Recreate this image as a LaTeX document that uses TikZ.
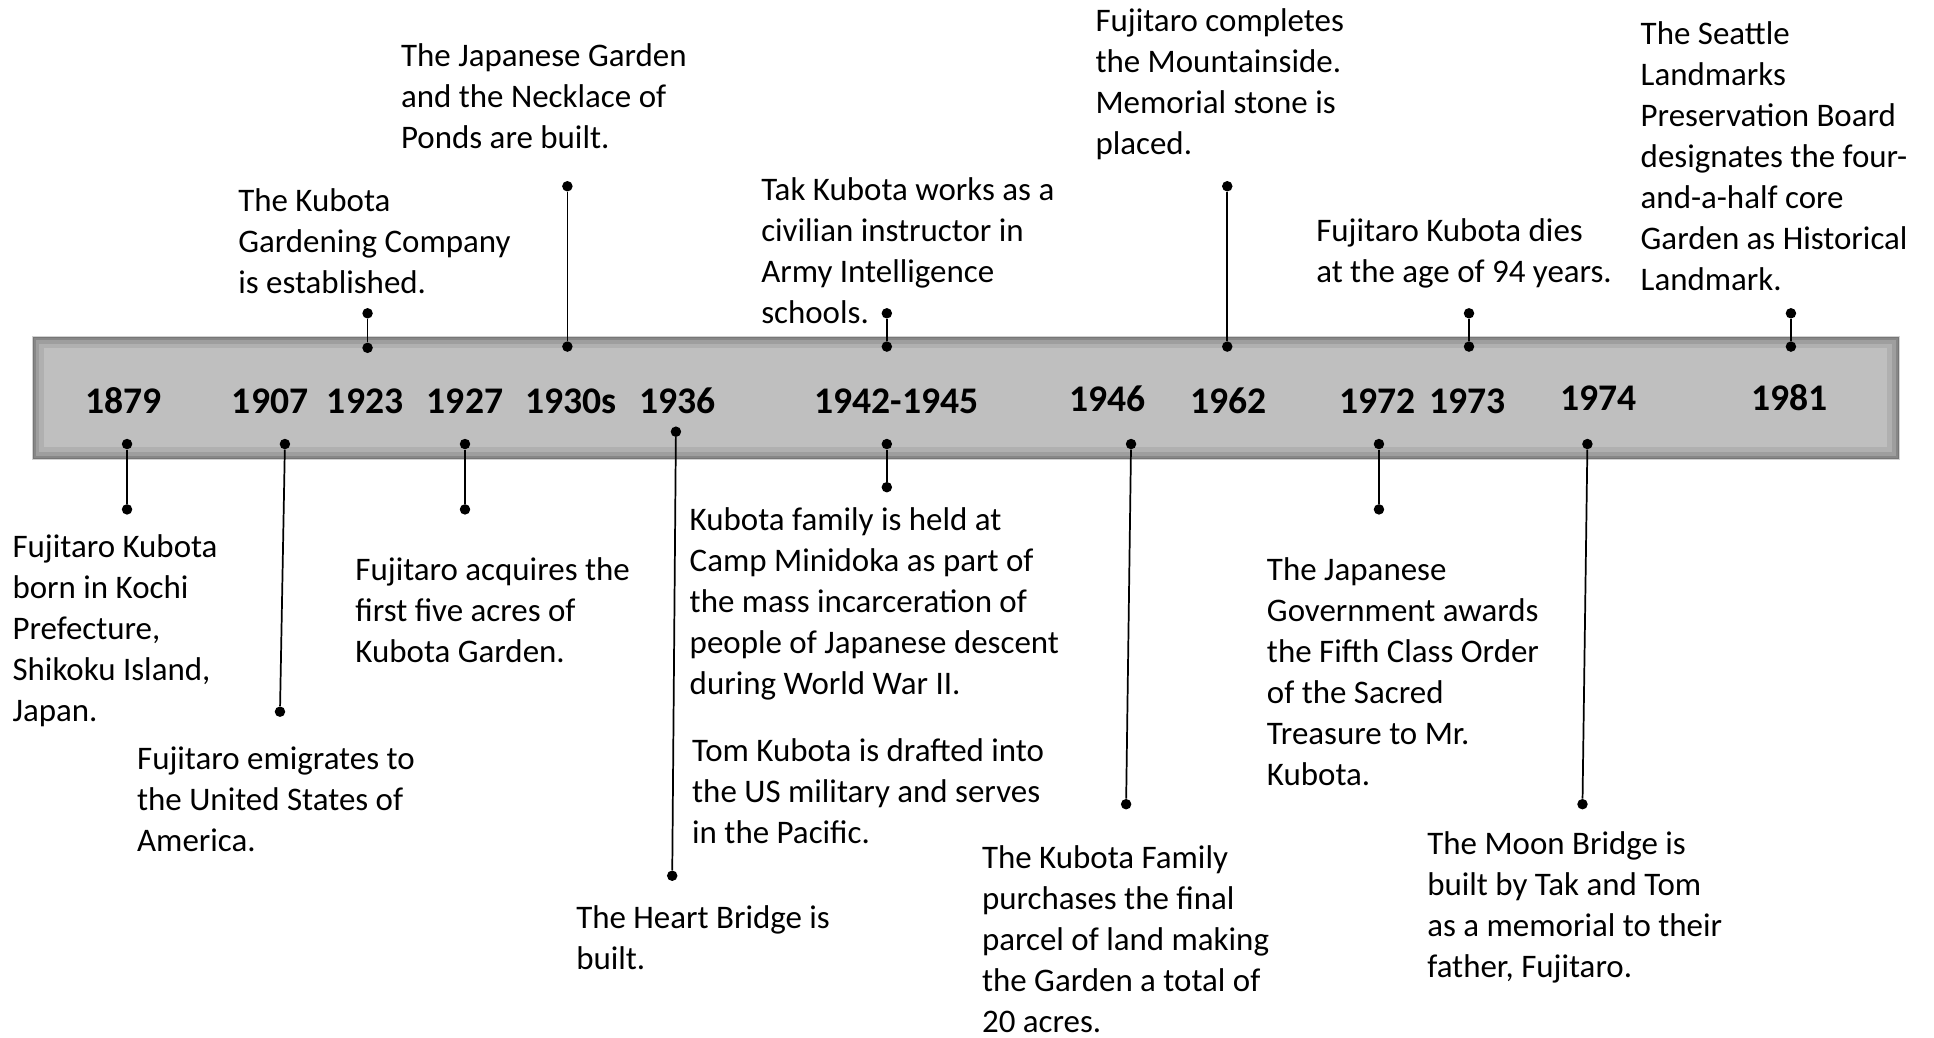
\documentclass[tikz,border=0pt]{standalone}
\usepackage{fontspec}
\setmainfont{Carlito}
\usepackage{xcolor}
\usepackage{tikz}

\definecolor{barfill}{RGB}{191,191,191}
\definecolor{baredge}{RGB}{210,210,210}

\begin{document}
\begin{tikzpicture}[x=1pt,y=-1pt,
  bar/.style={rectangle, fill=barfill, inner sep=0pt,
    minimum width=1514pt, minimum height=100pt,
    path picture={
      \draw[black, opacity=0.08, line width=20pt] (path picture bounding box.south west) rectangle (path picture bounding box.north east);
      \draw[black, opacity=0.10, line width=12pt] (path picture bounding box.south west) rectangle (path picture bounding box.north east);
      \draw[black, opacity=0.14, line width=6pt] (path picture bounding box.south west) rectangle (path picture bounding box.north east);
      \draw[black, opacity=0.12, line width=3pt] (path picture bounding box.south west) rectangle (path picture bounding box.north east);
      \draw[baredge, line width=1.4pt] (path picture bounding box.south west) rectangle (path picture bounding box.north east);
    }},
  dot/.style={circle, fill=black, inner sep=0pt, minimum size=8.5pt},
  stem/.style={draw=black, line width=1.4pt},
  year/.style={font=\fontsize{30.5}{36}\selectfont\bfseries, inner sep=0pt},
  event/.style={font=\fontsize{26.7}{33.25}\selectfont, align=left,
    anchor=north west, inner sep=0pt, execute at begin node=\strut}]

  \fill[white] (0,0) rectangle (1568,841);
  \useasboundingbox (0,0) rectangle (1568,841);

  % the time bar
  \node[bar] (bar) at (783,322.5) {};

  \node[year] (y1879) at (100,325) {1879};
  \node[year] (y1907) at (219,325) {1907};
  \node[year] (y1923) at (296,325) {1923};
  \node[year] (y1927) at (377,325) {1927};
  \node[year] (y1930s) at (463,325) {1930s};
  \node[year] (y1936) at (549,325) {1936};
  \node[year] (y1942) at (727,325) {1942-1945};
  \node[year] (y1946) at (898,323) {1946};
  \node[year] (y1962) at (996,325) {1962};
  \node[year] (y1972) at (1117,325) {1972};
  \node[year] (y1973) at (1190,325) {1973};
  \node[year] (y1974) at (1296,323) {1974};
  \node[year] (y1981) at (1451,322) {1981};

  % events above the bar
  \node[event] (t1923) at (193,153) {The Kubota\\Gardening Company\\is established.};
  \node[dot] (a1923) at (298,254) {};
  \node[dot] (b1923) at (298,282) {};
  \draw[stem] (a1923) -- (b1923);

  \node[event] (t1930s) at (325,35) {The Japanese Garden\\and the Necklace of\\Ponds are built.};
  \node[dot] (a1930s) at (460,151) {};
  \node[dot] (b1930s) at (460,281) {};
  \draw[stem] (a1930s) -- (b1930s);

  \node[event] (t1942a) at (617,144) {Tak Kubota works as a\\civilian instructor in\\Army Intelligence\\schools.};
  \node[dot] (a1942a) at (719,254) {};
  \node[dot] (b1942a) at (719,281) {};
  \draw[stem] (a1942a) -- (b1942a);

  \node[event] (t1962) at (888,7) {Fujitaro completes\\the Mountainside.\\Memorial stone is\\placed.};
  \node[dot] (a1962) at (995,151) {};
  \node[dot] (b1962) at (995,281) {};
  \draw[stem] (a1962) -- (b1962);

  \node[event] (t1973) at (1067,177) {Fujitaro Kubota dies\\at the age of 94 years.};
  \node[dot] (a1973) at (1191,254) {};
  \node[dot] (b1973) at (1191,281) {};
  \draw[stem] (a1973) -- (b1973);

  \node[event] (t1981) at (1330,17) {The Seattle\\Landmarks\\Preservation Board\\designates the four-\\and-a-half core\\Garden as Historical\\Landmark.};
  \node[dot] (a1981) at (1452,254) {};
  \node[dot] (b1981) at (1452,281) {};
  \draw[stem] (a1981) -- (b1981);

  % events below the bar
  \node[dot] (a1879) at (103,360) {};
  \node[dot] (b1879) at (103,413) {};
  \draw[stem] (a1879) -- (b1879);
  \node[event] (t1879) at (10,433) {Fujitaro Kubota\\born in Kochi\\Prefecture,\\Shikoku Island,\\Japan.};

  \node[dot] (a1907) at (231,360) {};
  \node[dot] (b1907) at (227,577) {};
  \draw[stem] (a1907) -- (b1907);
  \node[event] (t1907) at (111,605) {Fujitaro emigrates to\\the United States of\\America.};

  \node[dot] (a1927) at (377,360) {};
  \node[dot] (b1927) at (377,413) {};
  \draw[stem] (a1927) -- (b1927);
  \node[event] (t1927) at (288,452) {Fujitaro acquires the\\first five acres of\\Kubota Garden.};

  \node[dot] (a1936) at (548,350) {};
  \node[dot] (b1936) at (545,710) {};
  \draw[stem] (a1936) -- (b1936);
  \node[event] (t1936) at (467,734) {The Heart Bridge is\\built.};

  \node[dot] (a1942b) at (719,360) {};
  \node[dot] (b1942b) at (719,395) {};
  \draw[stem] (a1942b) -- (b1942b);
  \node[event] (t1942b) at (559,411) {Kubota family is held at\\Camp Minidoka as part of\\the mass incarceration of\\people of Japanese descent\\during World War II.};
  \node[event] (t1942c) at (561,599) {Tom Kubota is drafted into\\the US military and serves\\in the Pacific.};

  \node[dot] (a1946) at (917,360) {};
  \node[dot] (b1946) at (913,652) {};
  \draw[stem] (a1946) -- (b1946);
  \node[event] (t1946) at (796,685) {The Kubota Family\\purchases the final\\parcel of land making\\the Garden a total of\\20 acres.};

  \node[dot] (a1972) at (1118,360) {};
  \node[dot] (b1972) at (1118,413) {};
  \draw[stem] (a1972) -- (b1972);
  \node[event] (t1972) at (1027,452) {The Japanese\\Government awards\\the Fifth Class Order\\of the Sacred\\Treasure to Mr.\\Kubota.};

  \node[dot] (a1974) at (1287,360) {};
  \node[dot] (b1974) at (1283,652) {};
  \draw[stem] (a1974) -- (b1974);
  \node[event] (t1974) at (1157,674) {The Moon Bridge is\\built by Tak and Tom\\as a memorial to their\\father, Fujitaro.};
\end{tikzpicture}
\end{document}
